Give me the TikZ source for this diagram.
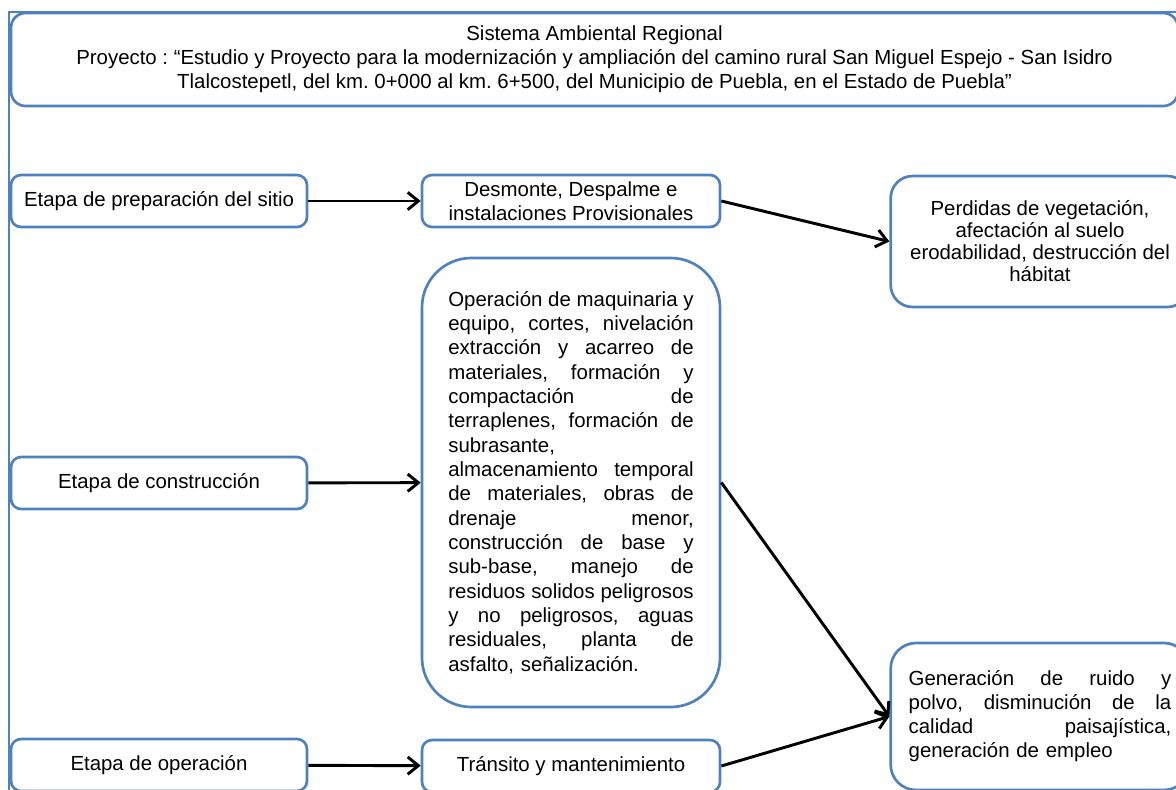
\documentclass[tikz,border=0pt]{standalone}
\usepackage{fontspec}
\setmainfont{Liberation Sans}
\usetikzlibrary{arrows.meta}
\definecolor{boxblue}{RGB}{79,129,189}
\frenchspacing

\begin{document}
\begin{tikzpicture}[x=0.75pt, y=-0.75pt,
    box/.style={draw=boxblue, line width=2pt, fill=white, rounded corners=7.5pt, inner sep=0pt, align=center, font=\fontsize{15.3}{18}\selectfont},
    stage/.style={box, minimum width=222pt, minimum height=39pt},
    task/.style={box, minimum width=223.5pt, minimum height=39pt},
    effect/.style={box, minimum width=224pt},
    arrow/.style={-{Straight Barb[length=8pt, width=13pt]}, line width=2.2pt}
  ]
  \useasboundingbox (0,0) rectangle (1176,789);
  \draw[boxblue, line width=0.8pt] (9,1000) |- (1500,12);

  \node[box, rounded corners=11pt, minimum width=875.25pt, minimum height=69.75pt] (title) at (594.5,59.5)
    {Sistema Ambiental Regional\\
     Proyecto : “Estudio y Proyecto para la modernización y ampliación del camino rural San Miguel Espejo - San Isidro\\
     Tlalcostepetl, del km. 0+000 al km. 6+500, del Municipio de Puebla, en el Estado de Puebla”};

  % etapas
  \node[stage] (prep) at (159,201) {Etapa de preparación del sitio};
  \node[stage] (constr) at (159,483) {Etapa de construcción};
  \node[stage] (oper) at (159,765) {Etapa de operación};

  % actividades
  \node[task] (desm) at (571,201) {Desmonte, Despalme e\\instalaciones Provisionales};
  \node[box, rounded corners=37pt, minimum width=223.5pt, minimum height=336.75pt, text width=184pt, align=left,
        font=\fontsize{15.3}{18.25}\selectfont] (obras) at (571,482.5)
    {Operación\hfill de\hfill maquinaria\hfill y\\
     equipo,\hfill cortes,\hfill nivelación\\
     extracción\hfill y\hfill acarreo\hfill de\\
     materiales,\hfill formación\hfill y\\
     compactación\hfill de\\
     terraplenes,\hfill formación\hfill de\\
     subrasante,\\
     almacenamiento\hfill temporal\\
     de\hfill materiales,\hfill obras\hfill de\\
     drenaje\hfill menor,\\
     construcción\hfill de\hfill base\hfill y\\
     sub-base,\hfill manejo\hfill de\\
     residuos\hfill solidos\hfill peligrosos\\
     y\hfill no\hfill peligrosos,\hfill aguas\\
     residuales,\hfill planta\hfill de\\
     asfalto, señalización.};
  \node[task] (trans) at (571,766) {Tránsito y mantenimiento};

  % impactos
  \node[effect, rounded corners=16.5pt, minimum height=98.25pt, font=\fontsize{15.3}{16.5}\selectfont] (perd) at (1040,241.5)
    {Perdidas de vegetación,\\afectación al suelo\\erodabilidad, destrucción del\\hábitat};
  \node[effect, rounded corners=19pt, minimum height=110.25pt, text width=197pt, align=left] (gen) at (1040,716.5)
    {Generación\hfill de\hfill ruido\hfill y\\
     polvo,\hfill disminución\hfill de\hfill la\\
     calidad\hfill paisajística,\\
     generación de empleo};

  \draw[arrow] (prep) -- (desm);
  \draw[arrow] (constr) -- (obras);
  \draw[arrow] (oper) -- (trans);
  \draw[arrow] (desm.east) -- (perd.west);
  \draw[arrow] (obras.east) -- (gen.west);
  \draw[arrow] (trans.east) -- (gen.west);
\end{tikzpicture}
\end{document}
